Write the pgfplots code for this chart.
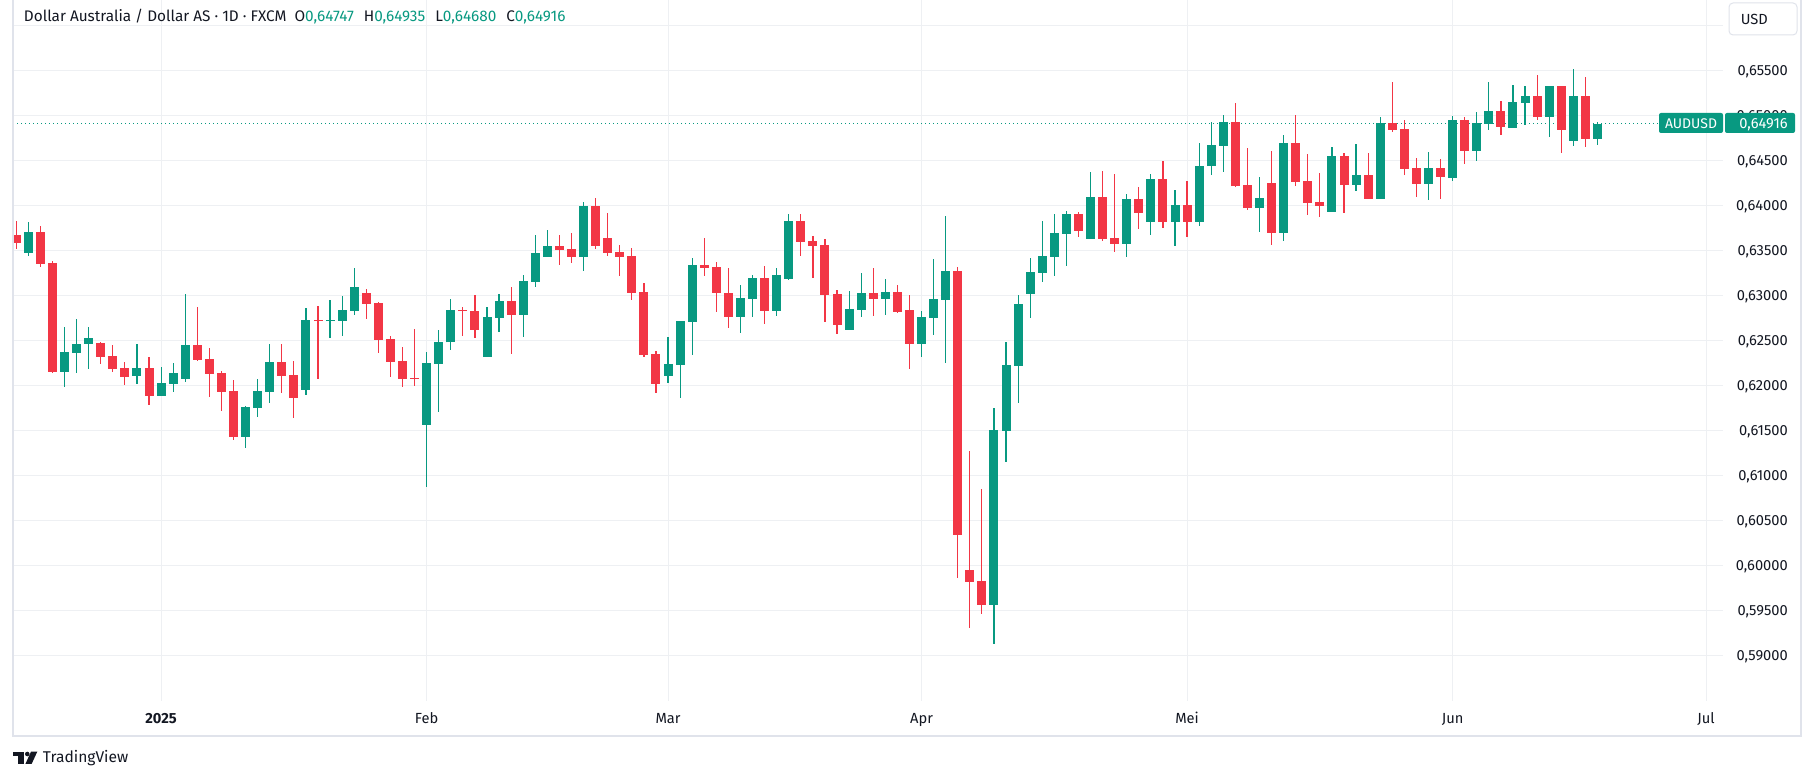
\documentclass[border=0pt]{standalone}
\usepackage{fontspec}
\setmainfont{Fira Sans}
\usepackage{pgfplots}
\pgfplotsset{compat=1.18}
\usepackage{pgfplotstable}
\definecolor{tvgreen}{HTML}{089981}
\definecolor{tvred}{HTML}{F23645}
\definecolor{tvtext}{HTML}{131722}
\definecolor{tvgrid}{HTML}{EEF0F3}
\definecolor{tvframe}{HTML}{E0E3EB}

% rising candles: index, open, high, low, close
\pgfplotstableread{
i O H L C
1 0.63481 0.63822 0.63448 0.63711
4 0.62159 0.62656 0.61993 0.62378
5 0.62370 0.62744 0.62148 0.62467
6 0.62470 0.62656 0.62193 0.62533
10 0.62115 0.62467 0.62026 0.62200
12 0.61893 0.62211 0.61890 0.62033
13 0.62026 0.62256 0.61937 0.62144
14 0.62081 0.63022 0.62048 0.62456
19 0.61437 0.61781 0.61315 0.61767
20 0.61759 0.62078 0.61659 0.61944
21 0.61937 0.62467 0.61815 0.62267
24 0.61959 0.62867 0.61904 0.62733
26 0.62722 0.62956 0.62537 0.62733
27 0.62726 0.62999 0.62559 0.62844
28 0.62837 0.63311 0.62793 0.63100
34 0.61570 0.62378 0.60881 0.62256
35 0.62248 0.62622 0.61715 0.62489
36 0.62485 0.62967 0.62404 0.62844
39 0.62326 0.62878 0.62326 0.62767
40 0.62759 0.63022 0.62604 0.62944
42 0.62793 0.63233 0.62548 0.63167
43 0.63159 0.63678 0.63104 0.63478
44 0.63437 0.63733 0.63437 0.63556
47 0.63437 0.64044 0.63281 0.64000
54 0.62115 0.62548 0.62037 0.62244
55 0.62237 0.62722 0.61870 0.62722
56 0.62715 0.63422 0.62348 0.63344
60 0.62770 0.63122 0.62593 0.62978
61 0.62970 0.63233 0.62770 0.63200
63 0.62837 0.63311 0.62781 0.63233
64 0.63193 0.63911 0.63181 0.63833
69 0.62626 0.63056 0.62626 0.62856
70 0.62848 0.63256 0.62770 0.63033
72 0.62970 0.63189 0.62793 0.63044
75 0.62470 0.62833 0.62326 0.62767
76 0.62759 0.63411 0.62570 0.62967
77 0.62959 0.63889 0.62259 0.63278
81 0.59570 0.61756 0.59137 0.61511
82 0.61504 0.62489 0.61159 0.62233
83 0.62226 0.63011 0.61815 0.62911
84 0.63026 0.63422 0.62759 0.63267
85 0.63259 0.63833 0.63159 0.63444
86 0.63437 0.63911 0.63226 0.63700
87 0.63693 0.63944 0.63337 0.63911
89 0.63637 0.64378 0.63637 0.64100
92 0.63581 0.64133 0.63437 0.64078
94 0.63826 0.64356 0.63681 0.64300
96 0.63826 0.64178 0.63559 0.64011
98 0.63826 0.64700 0.63781 0.64444
99 0.64444 0.64933 0.64344 0.64678
100 0.64667 0.65011 0.64378 0.64933
103 0.63978 0.64322 0.63715 0.64089
105 0.63704 0.64789 0.63615 0.64700
109 0.63937 0.64656 0.63937 0.64556
111 0.64237 0.64689 0.64170 0.64344
113 0.64081 0.64989 0.64081 0.64922
117 0.64248 0.64600 0.64067 0.64422
119 0.64315 0.65000 0.64281 0.64956
121 0.64615 0.65044 0.64504 0.64922
122 0.64915 0.65378 0.64848 0.65056
124 0.64870 0.65344 0.64870 0.65156
125 0.65148 0.65333 0.64904 0.65222
127 0.64993 0.65333 0.64770 0.65333
129 0.64726 0.65522 0.64670 0.65222
131 0.64747 0.64935 0.64680 0.64916
}\up

% falling candles: index, open, high, low, close
\pgfplotstableread{
i O H L C
0 0.63674 0.63833 0.63526 0.63593
2 0.63711 0.63778 0.63326 0.63359
3 0.63367 0.63389 0.62148 0.62159
7 0.62478 0.62489 0.62248 0.62326
8 0.62333 0.62456 0.62159 0.62193
9 0.62200 0.62267 0.62015 0.62104
11 0.62200 0.62322 0.61793 0.61893
15 0.62456 0.62878 0.62281 0.62293
16 0.62300 0.62422 0.61881 0.62137
17 0.62144 0.62167 0.61726 0.61937
18 0.61944 0.62067 0.61400 0.61437
22 0.62267 0.62467 0.61926 0.62115
23 0.62122 0.62278 0.61648 0.61870
25 0.62733 0.62889 0.62082 0.62722
29 0.63033 0.63078 0.62748 0.62915
30 0.62922 0.62933 0.62370 0.62515
31 0.62522 0.62556 0.62104 0.62270
32 0.62278 0.62433 0.61993 0.62082
33 0.62093 0.62633 0.62004 0.62082
37 0.62844 0.62878 0.62559 0.62833
38 0.62833 0.63011 0.62537 0.62626
41 0.62944 0.63100 0.62359 0.62793
45 0.63556 0.63678 0.63348 0.63515
46 0.63522 0.63700 0.63370 0.63437
48 0.64000 0.64089 0.63526 0.63559
49 0.63644 0.63922 0.63448 0.63481
50 0.63489 0.63567 0.63226 0.63437
51 0.63444 0.63533 0.62959 0.63037
52 0.63044 0.63144 0.62326 0.62348
53 0.62356 0.62389 0.61926 0.62026
57 0.63344 0.63644 0.63226 0.63315
58 0.63322 0.63378 0.62826 0.63037
59 0.63033 0.63311 0.62648 0.62770
62 0.63200 0.63333 0.62693 0.62837
65 0.63833 0.63911 0.63448 0.63604
66 0.63611 0.63667 0.63204 0.63559
67 0.63567 0.63633 0.62715 0.63015
68 0.63022 0.63067 0.62581 0.62681
71 0.63033 0.63311 0.62781 0.62970
73 0.63044 0.63122 0.62815 0.62826
74 0.62844 0.63011 0.62193 0.62470
78 0.63278 0.63322 0.59870 0.60348
79 0.59956 0.61278 0.59315 0.59826
80 0.59833 0.60856 0.59470 0.59570
88 0.63911 0.63933 0.63659 0.63726
90 0.64100 0.64389 0.63615 0.63637
91 0.63644 0.64356 0.63493 0.63581
93 0.64078 0.64211 0.63748 0.63926
95 0.64300 0.64500 0.63759 0.63826
97 0.64011 0.64278 0.63659 0.63826
101 0.64933 0.65144 0.64211 0.64222
102 0.64233 0.64644 0.63956 0.63978
104 0.64256 0.64611 0.63570 0.63704
106 0.64700 0.65011 0.64222 0.64270
107 0.64278 0.64578 0.63904 0.64037
108 0.64044 0.64367 0.63882 0.64004
110 0.64556 0.64589 0.63926 0.64237
112 0.64344 0.64589 0.64081 0.64081
114 0.64922 0.65378 0.64826 0.64848
115 0.64856 0.64956 0.64344 0.64411
116 0.64422 0.64533 0.64100 0.64248
118 0.64422 0.64522 0.64078 0.64326
120 0.64956 0.64989 0.64470 0.64615
123 0.65056 0.65167 0.64793 0.64881
126 0.65222 0.65456 0.64959 0.64993
128 0.65333 0.65333 0.64593 0.64848
130 0.65222 0.65433 0.64659 0.64748
}\down

\begin{document}
\begin{tikzpicture}
\useasboundingbox[fill=white] (0,0) rectangle (1359.75pt,585pt);
\begin{axis}[
  at={(9.75pt,59.25pt)}, anchor=south west,
  scale only axis, width=1282.5pt, height=525.75pt,
  xmin=-0.27, xmax=141.4, ymin=0.585, ymax=0.662889,
  axis line style={draw=none},
  major tick length=0pt,
  xtick={12,34,54,75,97,119,140},
  xticklabels={\textbf{2025},Feb,Mar,Apr,Mei,Jun,Jul},
  ytick={0.590,0.595,0.600,0.605,0.610,0.615,0.620,0.625,0.630,0.635,0.640,0.645,0.650,0.655},
  extra y ticks={0.660}, extra y tick labels={},
  yticklabel pos=right,
  scaled y ticks=false,
  xmajorgrids, ymajorgrids,
  major grid style={draw=tvgrid, line width=0.75pt},
  tick label style={font=\fontsize{11pt}{13pt}\selectfont, text=tvtext},
  x tick label style={anchor=base, yshift=-17.25pt},
  y tick label style={anchor=east, inner sep=0pt, text depth=0pt, xshift=48.75pt},
  /pgf/number format/fixed,
  /pgf/number format/fixed zerofill,
  /pgf/number format/precision=5,
  /pgf/number format/use comma,
  /pgf/number format/assume math mode=true,
]
% last-price dotted line
\addplot[forget plot, tvgreen, line width=0.75pt, dash pattern=on 1.1pt off 1.9pt]
  coordinates {(-0.27,0.64916) (136.1,0.64916)};
% wicks
\addplot[forget plot, draw=none, mark=none,
  error bars/.cd, y dir=plus, y explicit, error mark=none,
  error bar style={draw=tvgreen, line width=0.9pt}]
  table[x=i, y=L, y error expr=\thisrow{H}-\thisrow{L}] {\up};
\addplot[forget plot, draw=none, mark=none,
  error bars/.cd, y dir=plus, y explicit, error mark=none,
  error bar style={draw=tvred, line width=0.9pt}]
  table[x=i, y=L, y error expr=\thisrow{H}-\thisrow{L}] {\down};
% bodies
\addplot[forget plot, draw=none, mark=none,
  error bars/.cd, y dir=plus, y explicit, error mark=none,
  error bar style={draw=tvgreen, line width=6.75pt}]
  table[x=i, y=O, y error expr={max(\thisrow{C}-\thisrow{O},0.00012)}] {\up};
\addplot[forget plot, draw=none, mark=none,
  error bars/.cd, y dir=plus, y explicit, error mark=none,
  error bar style={draw=tvred, line width=6.75pt}]
  table[x=i, y=C, y error expr={max(\thisrow{O}-\thisrow{C},0.00012)}] {\down};
\end{axis}

\begin{scope}[x=0.75pt, y=-0.75pt, shift={(0pt,585pt)}]
  % frame
  \draw[tvframe, line width=1.3pt] (13,0) -- (13,736) -- (1801,736) -- (1801,0);
  % title
  \node[anchor=west, inner sep=0pt, text=tvtext, font=\fontsize{11.5pt}{13pt}\selectfont] at (23.7,17)
    {Dollar Australia / Dollar AS · 1D · FXCM\hspace{6pt}O\textcolor{tvgreen}{0,64747}\hspace{7.5pt}H\textcolor{tvgreen}{0,64935}\hspace{7.5pt}L\textcolor{tvgreen}{0,64680}\hspace{7.5pt}C\textcolor{tvgreen}{0,64916}};
  % currency box
  \draw[tvframe, fill=white, rounded corners=3pt, line width=0.75pt] (1729,3) rectangle (1797,35);
  \node[anchor=west, inner sep=0pt, text=tvtext, font=\fontsize{11pt}{13pt}\selectfont] at (1740.5,19.5) {USD};
  % last price tag
  \fill[tvgreen, rounded corners=1.5pt] (1659,113) rectangle (1723,133);
  \fill[tvgreen, rounded corners=1.5pt] (1725,113) rectangle (1795,133);
  \node[text=white, inner sep=0pt, font=\fontsize{10.5pt}{12pt}\selectfont] at (1691,123.5) {AUDUSD};
  \node[anchor=east, text=white, inner sep=0pt, text depth=0pt, font=\fontsize{11pt}{13pt}\selectfont] at (1788,123.5) {0,64916};
  % TradingView logo
  \fill[tvtext] (12.7,751.7) rectangle (24,756.3);
  \fill[tvtext] (18.4,751.7) rectangle (24,764);
  \fill[tvtext] (27.3,754) circle (2.3);
  \fill[tvtext] (31,751.7) -- (37.3,751.7) -- (31.6,764) -- (25.4,764) -- cycle;
  \node[anchor=west, inner sep=0pt, text=tvtext, font=\fontsize{11.7pt}{14pt}\selectfont] at (42.7,758) {TradingView};
\end{scope}
\end{tikzpicture}
\end{document}
